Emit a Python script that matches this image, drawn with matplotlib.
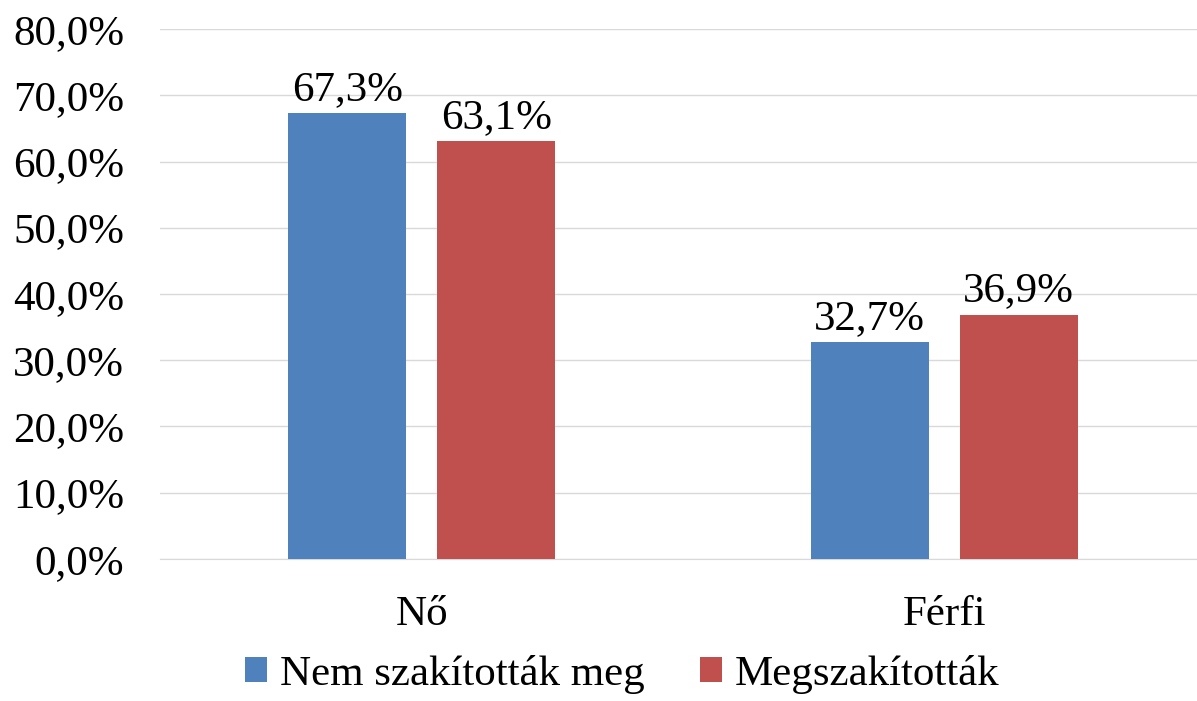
import numpy as np
import matplotlib
matplotlib.use("Agg")
import matplotlib.pyplot as plt
from matplotlib.ticker import FuncFormatter

categories = ["Nő", "Férfi"]
series_names = ["Nem szakították meg", "Megszakították"]
nem_szakitottak = [0.673, 0.327]
megszakitottak = [0.631, 0.369]
colors = ["#4F81BD", "#C0504D"]

plt.rcParams["font.family"] = ["Liberation Serif", "DejaVu Serif"]
FS = 31

fig = plt.figure(figsize=(11.97, 7.01), dpi=100)
ax = fig.add_axes([0.134, 0.2026, 0.873, 0.756])

x = np.arange(len(categories))
width = 0.226
offset = 0.1426

bars1 = ax.bar(x - offset, nem_szakitottak, width, color=colors[0], label=series_names[0], zorder=3)
bars2 = ax.bar(x + offset, megszakitottak, width, color=colors[1], label=series_names[1], zorder=3)

for bars in (bars1, bars2):
    for b in bars:
        v = b.get_height()
        ax.text(b.get_x() + b.get_width() / 2, v + 0.006, f"{v * 100:.1f}%".replace(".", ","),
                ha="center", va="bottom", fontsize=FS)

ax.set_xlim(-0.5, 1.5)
ax.set_ylim(0, 0.8)
ax.set_yticks(np.arange(0, 0.81, 0.1))
ax.yaxis.set_major_formatter(FuncFormatter(lambda v, p: f"{v * 100:.1f}%".replace(".", ",")))
ax.set_xticks(x)
ax.set_xticklabels(categories)
ax.tick_params(axis="both", length=0, labelsize=FS)
ax.tick_params(axis="x", pad=26)
ax.tick_params(axis="y", pad=26)
ax.grid(axis="y", color="#D9D9D9", linewidth=1, zorder=0)
for s in ["top", "right", "left"]:
    ax.spines[s].set_visible(False)
ax.spines["bottom"].set_color("#D9D9D9")

fig.legend(loc="lower center", bbox_to_anchor=(0.52, -0.045), ncol=2, frameon=False,
           fontsize=FS, handlelength=0.5, handleheight=0.5, handletextpad=0.3, columnspacing=1.3)

fig.savefig("out.png", dpi=100)
